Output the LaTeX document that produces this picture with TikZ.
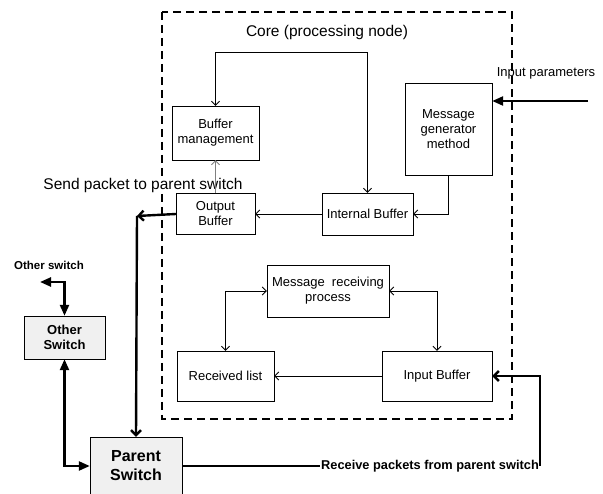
\documentclass[tikz,border=0pt]{standalone}
\usepackage{fontspec}
\setmainfont{Liberation Sans}
\usetikzlibrary{arrows.meta}

\tikzset{
    box/.style={draw, inner sep=0pt, align=center, font=\fontsize{13}{15}\selectfont},
    switchbox/.style={draw, fill=gray!12, inner sep=0pt, align=center},
    thin link/.style={line width=0.9pt},
    thick link/.style={line width=2.4pt},
    barb/.tip={Straight Barb[length=4pt, width=8pt]},
    big barb/.tip={Straight Barb[length=5pt, width=10pt]},
    big tri/.tip={Triangle[length=11pt, width=9pt]}
}

\begin{document}
\begin{tikzpicture}[x=1pt, y=-1pt]
        \useasboundingbox (0,0) rectangle (603,494);
        \clip (0,0) rectangle (603,494);

        % the core
        \draw[line width=1.1pt, dash pattern=on 8pt off 5pt] (162,12) rectangle (512,419);
        \node (core) at (327,32) {\fontsize{15.5}{18}\selectfont Core (processing node)};

        % the blocks inside the core
        \node[box, minimum width=87pt, minimum height=54pt] (bufman) at (215.5,133) {Buffer\\management};
        \node[box, minimum width=79pt, minimum height=41pt] (outbuf) at (215.5,214) {Output\\Buffer};
        \node[box, minimum width=91pt, minimum height=42pt] (intbuf) at (367.5,214) {Internal Buffer};
        \node[box, minimum width=87pt, minimum height=92pt] (msggen) at (448.5,129) {Message\\generator\\method};
        \node[box, minimum width=122pt, minimum height=52pt] (mrp) at (328,291) {Message\ \ receiving\\process};
        \node[box, minimum width=97pt, minimum height=50pt] (reclist) at (225.5,376) {Received list};
        \node[box, minimum width=110pt, minimum height=50pt] (inbuf) at (437,376) {Input Buffer};

        % the switches
        \node[switchbox, minimum width=81pt, minimum height=43pt, font=\bfseries\fontsize{13}{15.5}\selectfont] (other) at (64.5,337.5) {Other\\Switch};
        \node[switchbox, minimum width=92pt, minimum height=58pt, font=\bfseries\fontsize{16}{19}\selectfont] (parent) at (136,466) {Parent\\Switch};

        % the texts
        \node[fill=white, inner sep=1pt, font=\fontsize{15.5}{18}\selectfont] (sendtxt) at (143,185) {Send packet to parent switch};
        \node[font=\fontsize{13}{15}\selectfont] (inptxt) at (546,73) {Input parameters};
        \node[font=\bfseries\fontsize{11.5}{13}\selectfont] (othtxt) at (49,265) {Other switch};
        \node[inner sep=1pt, font=\bfseries\fontsize{12.8}{15}\selectfont] (recvtxt) at (430,466) {Receive packets from parent switch};

        % free ends of the connectors
        \coordinate (inpc) at (588,101);
        \coordinate (sendc) at (137,216);
        \coordinate (othc) at (40,282);

        % draw the arrows inside the core
        \draw[thin link, barb-barb] (intbuf.north) -- (intbuf.north |- 0,52) -| (bufman.north);
        \draw[thin link, -barb, gray] (outbuf.north) -- (bufman.south);
        \draw[thin link, -barb] (intbuf.west) -- (outbuf.east);
        \draw[thin link, -barb] (msggen.south) |- (intbuf.east);
        \draw[thin link, barb-barb] (mrp.west) -| (reclist.north);
        \draw[thin link, barb-barb] (mrp.east) -| (inbuf.north);
        \draw[thin link, -barb] (inbuf.west) -- (reclist.east);

        % draw the arrows outside the core
        \draw[thick link, -big tri] (inpc) -- (msggen.east |- inpc);
        \draw[thick link, -big barb] (outbuf.west) -- (sendc);
        \draw[thick link, -big barb] (sendc) -- (parent.north);
        \draw[thick link, big tri-big tri] (othc) -| (other.north);
        \draw[thick link, big tri-big tri] (other.south) |- (parent.west);
        \draw[thick link] (parent.east) -- (recvtxt.west);
        \draw[thick link, -big barb] (recvtxt.east) -- (recvtxt.east |- inbuf.east) -- (inbuf.east);

    \end{tikzpicture}
\end{document}
